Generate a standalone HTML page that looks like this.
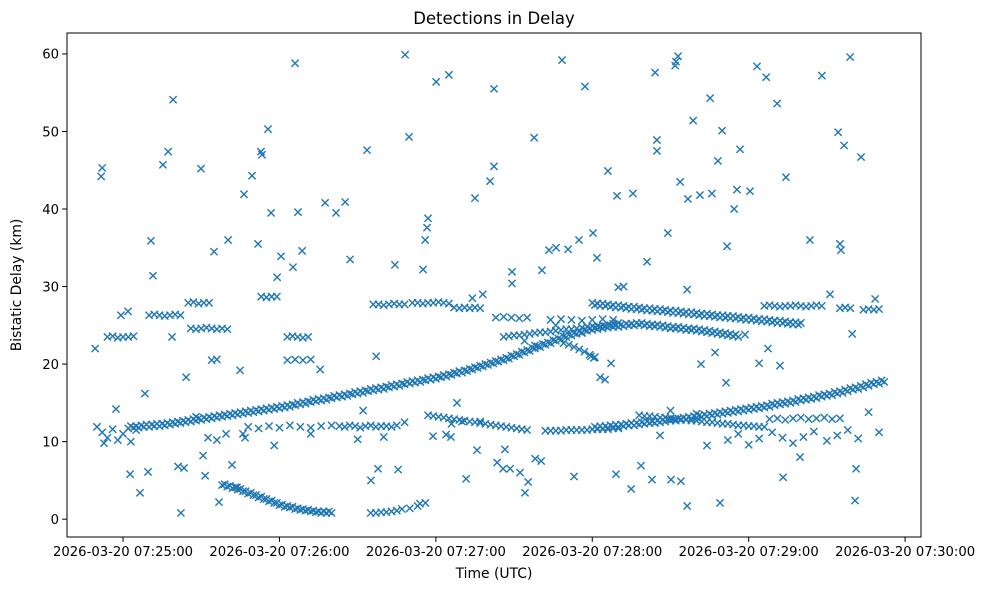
<!DOCTYPE html>
<html><head><meta charset="utf-8">
<style>
html,body{margin:0;padding:0;background:#fff;}
svg{display:block;font-family:"DejaVu Sans","Liberation Sans",sans-serif;}
</style></head>
<body>
<svg id="chart" width="988" height="590" viewBox="0 0 988 590">
<rect x="0" y="0" width="988" height="590" fill="#fff"/>
<text x="494" y="24" text-anchor="middle" font-size="16.5" fill="#000">Detections in Delay</text>
<g id="marks"></g>
<rect x="67" y="33" width="854" height="504" fill="none" stroke="#000" stroke-width="1"/>
<g id="xaxis"></g>
<g id="yaxis"></g>
<text x="494" y="578" text-anchor="middle" font-size="13.9">Time (UTC)</text>
<text transform="translate(21,285) rotate(-90)" text-anchor="middle" font-size="13.9">Bistatic Delay (km)</text>
</svg>
<script>
// time in seconds after 07:24:00 UTC, delay in km
const xTickSeconds = [60,120,180,240,300,360];
const xTickLabels = ["2026-03-20 07:25:00","2026-03-20 07:26:00","2026-03-20 07:27:00","2026-03-20 07:28:00","2026-03-20 07:29:00","2026-03-20 07:30:00"];
const yTicks = [0,10,20,30,40,50,60];

const trackA_t = [62,64,66,68,70,72,74,76,78,80,82,84,86,88,90,92,94,96,98,100,102,104,106,108,110,112,114,116,118,120,122,124,126,128,130,132,134,136,138,140,142,144,146,148,150,152,154,156,158,160,162,164,166,168,170,172,174,176,178,180,182,184,186,188,190,192,194,196,198,200,202,204,206,208,210,212,214,216,218,220,222,224,226,228,230,232,234,236,238,240,242,244,246,248,250,252,254,256,258,260,262,264,266,268,270,272,274,276,278,280,282,284,286,288,290,292,294,296];
const trackA_d = [11.7,11.8,11.8,11.9,11.9,12.0,12.0,12.1,12.2,12.3,12.4,12.5,12.6,12.7,12.8,12.9,13.0,13.1,13.2,13.3,13.4,13.5,13.6,13.7,13.8,13.9,14.0,14.1,14.2,14.3,14.4,14.5,14.7,14.8,14.9,15.1,15.2,15.3,15.4,15.6,15.7,15.8,15.9,16.1,16.2,16.3,16.5,16.6,16.7,16.8,17.0,17.1,17.2,17.4,17.5,17.6,17.7,17.9,18.0,18.1,18.3,18.4,18.6,18.8,18.9,19.1,19.3,19.5,19.7,19.9,20.1,20.3,20.5,20.7,21.0,21.2,21.5,21.7,22.0,22.2,22.5,22.7,23.0,23.2,23.5,23.7,23.9,24.1,24.3,24.4,24.5,24.6,24.7,24.8,24.8,24.9,25.0,25.0,25.1,25.0,24.9,24.9,24.8,24.7,24.6,24.6,24.5,24.4,24.4,24.3,24.2,24.1,24.0,23.9,23.8,23.7,23.6,23.5];
const trackA2_t = [63,65,67,69,71,73,75,77,79,81,83,85,87,89,91,93,95,97,99,101,103,105,107,109,111,113,115,117,119,121,123,125,127,129,131,133,135,137,139,141,143,145,147,149,151,153,155,157,159,161,163,165,167,169,171,173,175,177,179,181,183,185,187,189,191,193,195,197,199,201,203,205,207,209,211,213,215,217,219,221,223,225,227,229,231,233,235,237,239,241,243,245,247,249,251,253,255,257,259,261,263,265,267,269,271,273,275,277,279,281,283,285,287,289,291,293,295];
const trackA2_d = [12.0,12.0,12.1,12.2,12.2,12.3,12.3,12.4,12.5,12.6,12.7,12.8,12.9,13.0,13.1,13.2,13.3,13.4,13.5,13.6,13.7,13.8,13.9,14.0,14.1,14.2,14.3,14.4,14.5,14.6,14.7,14.8,15.0,15.1,15.2,15.4,15.5,15.6,15.7,15.9,16.0,16.1,16.2,16.4,16.5,16.6,16.8,16.9,17.0,17.1,17.3,17.4,17.5,17.7,17.8,17.9,18.0,18.2,18.3,18.4,18.6,18.7,18.9,19.1,19.2,19.4,19.6,19.8,20.0,20.2,20.4,20.6,20.8,21.1,21.3,21.6,21.8,22.1,22.3,22.6,22.8,23.1,23.3,23.6,23.8,24.0,24.2,24.4,24.6,24.7,24.8,24.9,25.0,25.0,25.1,25.2,25.2,25.3,25.3,25.2,25.1,25.1,25.0,24.9,24.8,24.8,24.7,24.6,24.6,24.5,24.4,24.3,24.2,24.1,24.0,23.9,23.8];

const trackB_t = [240,242,244,246,248,250,252,254,256,258,260,262,264,266,268,270,272,274,276,278,280,282,284,286,288,290,292,294,296,298,300,302,304,306,308,310,312,314,316,318,320];
const trackB_d = [27.9,27.8,27.8,27.7,27.6,27.6,27.5,27.4,27.4,27.3,27.2,27.2,27.1,27.1,27.0,26.9,26.9,26.8,26.7,26.7,26.6,26.5,26.5,26.4,26.3,26.3,26.2,26.2,26.1,26.0,26.0,25.9,25.8,25.8,25.7,25.6,25.6,25.5,25.4,25.4,25.3];
const trackB2_t = [241,243,245,247,249,251,253,255,257,259,261,263,265,267,269,271,273,275,277,279,281,283,285,287,289,291,293,295,297,299,301,303,305,307,309,311,313,315,317,319];
const trackB2_d = [27.6,27.5,27.5,27.4,27.3,27.3,27.2,27.1,27.1,27.0,26.9,26.9,26.8,26.8,26.7,26.6,26.6,26.5,26.4,26.4,26.3,26.2,26.2,26.1,26.0,26.0,25.9,25.9,25.8,25.7,25.7,25.6,25.5,25.5,25.4,25.3,25.3,25.2,25.1,25.1];

const trackC_t = [240,242,244,246,248,250,252,254,256,258,260,262,264,266,268,270,272,274,276,278,280,282,284,286,288,290,292,294,296,298,300,302,304,306,308,310,312,314,316,318,320,322,324,326,328,330,332,334,336,338,340,342,344,346,348,350,352];
const trackC_d = [11.6,11.7,11.7,11.8,11.9,11.9,12.0,12.1,12.1,12.2,12.3,12.4,12.4,12.5,12.6,12.7,12.7,12.8,12.9,13.0,13.1,13.2,13.3,13.4,13.5,13.6,13.7,13.8,13.9,14.0,14.1,14.2,14.3,14.4,14.5,14.7,14.8,14.9,15.0,15.1,15.3,15.4,15.5,15.6,15.8,15.9,16.0,16.2,16.3,16.5,16.7,16.8,17.0,17.2,17.4,17.5,17.7];
const trackC2_t = [241,243,245,247,249,251,253,255,257,259,261,263,265,267,269,271,273,275,277,279,281,283,285,287,289,291,293,295,297,299,301,303,305,307,309,311,313,315,317,319,321,323,325,327,329,331,333,335,337,339,341,343,345,347,349,351];
const trackC2_d = [11.9,12.0,12.0,12.1,12.2,12.2,12.3,12.4,12.4,12.5,12.6,12.6,12.7,12.8,12.9,12.9,13.0,13.1,13.2,13.3,13.4,13.5,13.6,13.7,13.8,13.9,14.0,14.1,14.2,14.3,14.4,14.5,14.6,14.7,14.9,15.0,15.1,15.2,15.3,15.5,15.6,15.7,15.8,16.0,16.1,16.2,16.4,16.5,16.7,16.9,17.0,17.2,17.4,17.6,17.7,17.9];

const trackD_t = [258,260,262,264,266,268,270,272,274,276,278,280,282,284,286,288,290,292,294,296,298,300,302,304,306,308,311,314,317,320,323,326,329,332,335];
const trackD_d = [13.4,13.3,13.3,13.2,13.1,13.1,13.0,12.9,12.9,12.8,12.7,12.7,12.6,12.5,12.5,12.4,12.3,12.3,12.2,12.1,12.1,12.0,12.0,11.9,11.9,12.9,13.0,12.8,13.0,13.1,12.9,13.0,13.1,12.9,13.0];

const trackE_t = [98,100,102,104,106,108,110,112,114,116,118,120,122,124,126,128,130,132,134,136,138,140,155,157,159,161,163,165,167,170,173,176];
const trackE_d = [4.4,4.2,4.0,3.8,3.6,3.3,3.1,2.8,2.6,2.3,2.1,1.8,1.6,1.5,1.3,1.2,1.1,1.0,0.9,0.8,0.8,0.8,0.8,0.8,0.9,0.9,1.0,1.1,1.3,1.4,1.7,2.1];
const trackE2_t = [99,101,103,105,107,109,111,113,115,117,119,121,123,125,127,129,131,133,135,137,139];
const trackE2_d = [4.5,4.3,4.1,3.9,3.6,3.4,3.1,2.9,2.6,2.4,2.1,1.9,1.7,1.6,1.4,1.3,1.2,1.1,1.0,1.0,1.0];

const trackG_t = [177,179,181,183,185,187,189,191,193,195,197,199,201,203,205,207,209,211,213,215,222,224,226,228,230,232,234,236,238,240,242,244,246,248,250];
const trackG_d = [13.4,13.3,13.2,13.1,13.0,12.9,12.8,12.7,12.6,12.5,12.4,12.3,12.2,12.1,12.0,11.9,11.8,11.7,11.6,11.5,11.4,11.4,11.4,11.4,11.5,11.5,11.5,11.5,11.5,11.6,11.6,11.6,11.6,11.7,11.7];

const trackH_t = [156,158,160,162,164,166,168,171,173,175,177,179,181,183,185,187,189,191,193,195,197,203,206,209,212,215];
const trackH_d = [27.7,27.7,27.6,27.7,27.8,27.7,27.7,27.9,27.9,27.8,27.9,27.9,28.0,27.9,27.8,27.3,27.2,27.3,27.2,27.3,27.2,26.0,26.1,26.0,25.9,26.0];

const trackI_t = [206,208,210,212,214,216,218,220,222,224,226,228,230,232,234,236,238,240,242,244,246,248,250,229,231,233,235,237,239,241];
const trackI_d = [23.5,23.6,23.7,23.7,23.8,23.9,24.0,24.1,24.1,24.2,24.3,24.4,24.5,24.5,24.6,24.7,24.8,24.9,24.9,25.0,25.1,25.2,25.3,22.7,22.5,22.2,21.9,21.6,21.2,20.9];

const trackL_t = [50,52,54,56,58,60,63,65,108,112,116,120,124,128,132,136,140,143,145,147,149,151,153,155,157,159,161,163,165];
const trackL_d = [11.9,11.2,10.5,11.6,10.2,11.0,10.0,11.5,11.9,11.7,12.0,11.8,12.1,11.9,11.8,12.0,12.1,12.0,11.9,12.1,12.0,11.8,12.0,12.1,11.9,12.0,12.0,11.9,12.1];

const clusters_t = [54,56,58,60,62,64,85,87,89,91,93,113,115,117,119,123,125,127,129,131,123,126,129,132,94,96,70,72,74,76,78,80,82,86,88,90,92,94,96,98,100,306,308,310,312,314,316,318,320,322,324,326,328,335,337,339,344,346,348,350,224,228,232,236,240,244,248];
const clusters_d = [23.5,23.6,23.4,23.5,23.5,23.6,27.9,28.0,27.8,27.9,27.9,28.7,28.6,28.7,28.7,23.5,23.6,23.5,23.4,23.5,20.5,20.6,20.5,20.6,20.5,20.6,26.3,26.4,26.3,26.2,26.3,26.4,26.3,24.6,24.5,24.6,24.7,24.6,24.5,24.6,24.5,27.5,27.6,27.5,27.4,27.5,27.5,27.6,27.5,27.4,27.5,27.6,27.5,27.2,27.3,27.2,27.0,27.1,27.0,27.1,25.7,25.8,25.7,25.6,25.7,25.8,25.7];

const scatter_t = [49.3,51.6,52,52.7,57.3,59.2,61.9,62.7,66.5,68.4,69.6,70.7,71.5,75.3,77.3,79.2,81.1,82.2,83.4,89.9,91.5,94.9,96.8,100.3,101.8,104.9,106.4,109.5,111.8,112.9,113.3,115.6,116.8,119.1,120.6,125.2,126,127.1,128.7,135.6,137.5,141.7,145.2,147.1,152.1,153.6,155.1,157.1,157.8,164.3,165.5,168.2,169.7,173.9,175.1,175.9,176.6,177,180.1,185,188.1,191.6,195,200.8,202.3,202.3,206.5,209.2,209.2,212.3,214.2,215.4,217.7,218.1,220.4,220.7,223.4,226.1,228.4,230.7,233,234.9,237.2,240.3,241.8,246,249.1,249.5,254.9,255.6,258.7,261,262.9,264.1,264.8,264.8,269,271.8,272.1,272.9,273.7,274,276.4,276.7,278.7,281.3,285.2,285.9,288.2,289,289.8,291.7,294.4,295.5,296.7,300.5,303.2,306.7,310.9,313.2,314.3,319.7,323.5,328.1,331.2,334.3,335,335.4,336.6,338.9,339.7,340.8,341.2,343.1,348.5,276.4,270.2,78.8,84.2,90.7,92.6,99.5,103.7,106.8,178.9,183.9,185.8,197,203.5,205.8,208.5,195.8,243,244.9,247.2,239.5,240.6,250,252,281.7,287.1,291.3,298.6,304,307.4,312,292,296,300,304,309,313,317,321,325,330,334,338,342,346,350,280,284,266,270,88,96,106,118,132,150,160,168,186,190,194,198,214,218,226,236];
const scatter_d = [22.0,44.2,45.3,9.8,14.2,26.3,26.8,5.8,3.4,16.2,6.1,35.9,31.4,45.7,47.4,54.1,6.8,0.8,6.6,45.2,5.6,34.5,2.2,36.0,7.0,19.2,41.9,44.3,35.5,47.4,47.0,50.3,39.5,31.2,33.9,32.5,58.8,39.6,34.6,19.3,40.8,39.5,40.9,33.5,14.0,47.6,5.0,21.0,6.5,32.8,6.4,59.9,49.3,2.0,32.2,36.0,37.6,38.8,56.4,57.3,15.0,5.2,41.4,43.6,45.5,55.5,9.0,31.9,30.4,6.0,3.4,4.8,49.2,7.8,7.5,32.1,34.7,35.0,59.2,34.8,5.5,36.0,55.8,36.9,33.7,44.9,5.8,41.7,3.9,42.0,6.9,33.2,5.1,57.6,47.5,48.9,36.9,58.5,59.0,59.7,43.5,4.9,29.6,41.3,51.4,41.8,54.3,42.0,46.2,2.1,50.1,35.2,40.0,42.5,47.7,42.3,58.4,57.0,53.6,5.4,44.1,8.0,36.0,57.2,29.0,49.9,35.5,34.7,48.2,59.6,23.9,2.4,6.5,46.7,28.4,1.7,5.1,23.5,18.3,8.2,10.5,11.0,4.1,10.5,10.7,10.9,10.6,12.6,7.3,6.5,6.5,8.9,18.3,18.0,20.1,21.0,20.8,29.9,30.0,20.0,21.5,17.6,23.8,20.1,22.0,19.8,10.2,11.0,9.6,10.4,11.2,10.5,9.8,10.6,11.3,10.1,10.8,11.5,10.4,13.8,11.2,13.6,9.5,10.8,14.0,13.2,10.2,11.0,9.5,11.0,10.3,10.6,12.5,12.3,12.6,28.5,29.0,23.0,22.4,25.0,24.0,23.0,22.0,28.5,29.5,28.9,30.2];

const X0 = 67, X1 = 921, Y0 = 537, Y1 = 33;
const T_MIN = 38.5, T_MAX = 366.1, D_MIN = -2.3, D_MAX = 62.7;
function xScale(t){ return X0 + (t - T_MIN) / (T_MAX - T_MIN) * (X1 - X0); }
function yScale(d){ return Y0 - (d - D_MIN) / (D_MAX - D_MIN) * (Y0 - Y1); }

const NS = "http://www.w3.org/2000/svg";
const marks = document.getElementById("marks");
const series = [[trackA_t,trackA_d],[trackA2_t,trackA2_d],[trackB_t,trackB_d],[trackB2_t,trackB2_d],[trackC_t,trackC_d],[trackC2_t,trackC2_d],[trackD_t,trackD_d],[trackE_t,trackE_d],[trackE2_t,trackE2_d],[trackG_t,trackG_d],[trackH_t,trackH_d],[trackI_t,trackI_d],[trackL_t,trackL_d],[clusters_t,clusters_d],[scatter_t,scatter_d]];
series.forEach(function(s){
  const ts = s[0], ds = s[1];
  const n = Math.min(ts.length, ds.length);
  for (let i = 0; i < n; i++) {
    const x = xScale(ts[i]), y = yScale(ds[i]), r = 3.6;
    const p = document.createElementNS(NS, "path");
    p.setAttribute("d", "M"+(x-r)+" "+(y-r)+"L"+(x+r)+" "+(y+r)+"M"+(x-r)+" "+(y+r)+"L"+(x+r)+" "+(y-r));
    p.setAttribute("stroke", "#1f77b4");
    p.setAttribute("stroke-width", "1.4");
    p.setAttribute("fill", "none");
    
    
    marks.appendChild(p);
  }
});

const xg = document.getElementById("xaxis");
xTickSeconds.forEach(function(t, i){
  const x = xScale(t);
  const ln = document.createElementNS(NS, "line");
  ln.setAttribute("x1", x); ln.setAttribute("x2", x);
  ln.setAttribute("y1", Y0); ln.setAttribute("y2", Y0 + 4.9);
  ln.setAttribute("stroke", "#000");
  
  
  xg.appendChild(ln);
  const tx = document.createElementNS(NS, "text");
  tx.setAttribute("x", x); tx.setAttribute("y", Y0 + 19);
  tx.setAttribute("text-anchor", "middle");
  tx.setAttribute("font-size", "13.2");
  tx.textContent = xTickLabels[i];
  
  
  xg.appendChild(tx);
});
const yg = document.getElementById("yaxis");
yTicks.forEach(function(v){
  const y = yScale(v);
  const ln = document.createElementNS(NS, "line");
  ln.setAttribute("x1", X0 - 4.9); ln.setAttribute("x2", X0);
  ln.setAttribute("y1", y); ln.setAttribute("y2", y);
  ln.setAttribute("stroke", "#000");
  
  
  yg.appendChild(ln);
  const tx = document.createElementNS(NS, "text");
  tx.setAttribute("x", X0 - 8); tx.setAttribute("y", y + 4.8);
  tx.setAttribute("text-anchor", "end");
  tx.setAttribute("font-size", "13.2");
  tx.textContent = String(v);
  
  
  yg.appendChild(tx);
});
</script>
</body></html>
